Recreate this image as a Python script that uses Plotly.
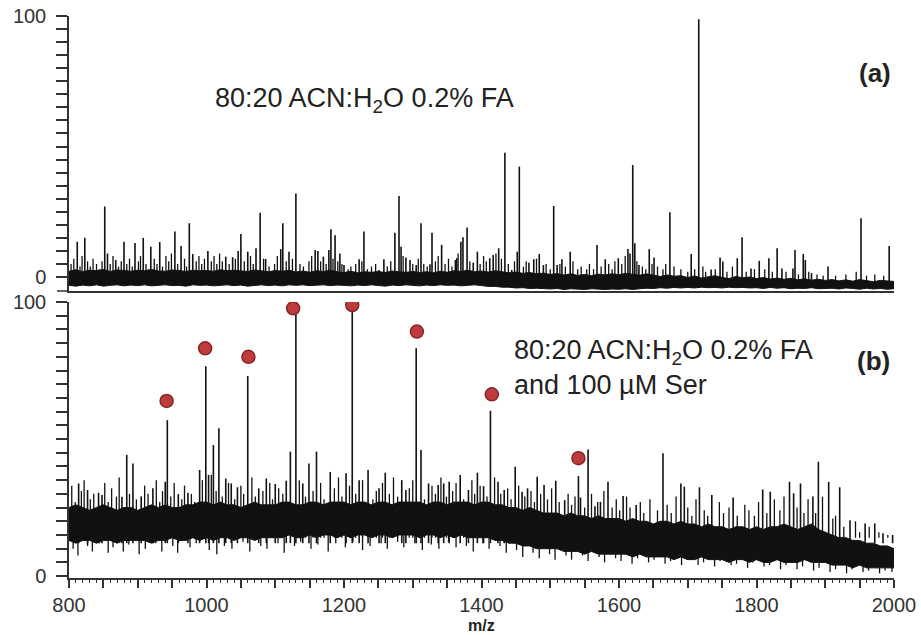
import plotly.graph_objects as go

# ---------------- data ----------------
mz_grid = list(range(800, 2001, 10))

# panel (a): envelope of the dense baseline
a_high = [2.2, 2.8, 2.0, 2.6, 2.4, 2.9, 2.1, 2.7, 2.5, 2.2,
          2.6, 2.4, 2.9, 2.3, 2.2, 2.7, 2.5, 2.1, 2.6, 2.4,
          2.5, 2.2, 2.8, 2.4, 2.6, 2.3, 2.1, 2.7, 2.4, 2.0,
          2.5, 2.2, 2.6, 1.9, 2.3, 1.8, 2.4, 2.1, 2.6, 2.0,
          1.7, 2.2, 1.6, 2.0, 1.8, 2.1, 1.7, 2.3, 2.0, 1.8,
          2.1, 1.7, 2.0, 1.6, 2.2, 1.8, 2.4, 2.1, 2.6, 2.0,
          2.3, 1.9, 2.4, 2.0, 1.6, 1.9, 1.4, 1.7, 1.2, 1.5,
          1.0, 1.3, 0.8, 1.2, 0.6, 1.0, 0.5, 1.1, 0.8, 1.2,
          0.9, 1.4, 1.0, 0.7, 1.2, 0.6, 0.2, 0.8, 0.3, 0.5,
          -0.2, 0.4, -0.4, 0.1, 0.5, -0.2, -0.6, 0.2, -0.3, 0.0,
          -0.6, -0.2, -0.8, -0.4, -0.9, -0.5, -1.1, -0.7, -1.2, -0.9,
          -1.3, -1.0, -1.5, -1.1, -1.6, -1.0, -1.4, -1.8, -1.3, -1.5,
          -1.7]
a_low = [-3.2, -3.5, -3.1, -3.4, -3.0, -3.5, -3.2, -3.0, -3.4, -3.1,
         -3.3, -3.0, -3.4, -3.1, -3.0, -3.3, -3.2, -3.5, -3.0, -3.2,
         -3.1, -3.4, -3.2, -3.0, -3.3, -3.1, -3.5, -3.2, -3.0, -3.3,
         -3.1, -3.4, -3.0, -3.2, -3.0, -3.3, -3.1, -3.0, -3.3, -3.1,
         -3.2, -3.4, -3.1, -3.3, -3.0, -3.2, -3.5, -3.1, -3.3, -3.0,
         -3.2, -3.4, -3.1, -3.3, -3.0, -3.2, -3.1, -3.4, -3.2, -3.0,
         -3.3, -3.6, -3.6, -3.9, -3.9, -4.2, -4.1, -4.4, -4.3, -4.4,
         -4.6, -4.4, -4.8, -4.5, -4.7, -4.8, -4.5, -4.7, -4.8, -4.6,
         -4.7, -4.5, -4.8, -4.5, -4.3, -4.4, -4.1, -4.3, -4.0, -4.2,
         -4.0, -4.2, -3.9, -4.1, -4.0, -4.2, -3.9, -4.1, -4.0, -4.2,
         -4.1, -4.4, -4.0, -4.3, -4.1, -4.5, -4.3, -4.4, -4.1, -4.5,
         -4.4, -4.3, -4.6, -4.2, -4.4, -4.7, -4.3, -4.6, -4.4, -4.7,
         -4.5]

# panel (a): larger peaks
a_peak_mz = [812, 823, 852, 856, 868, 880, 896, 908, 919, 932, 954, 963, 975, 980,
             1002, 1028, 1038, 1046, 1050, 1060, 1072, 1078, 1086, 1108, 1111, 1120,
             1130, 1158, 1162, 1170, 1178, 1181, 1187, 1194, 1200, 1222, 1229, 1251,
             1258, 1274, 1280, 1283, 1290, 1296, 1305, 1312, 1325, 1328, 1342, 1362,
             1364, 1370, 1373, 1379, 1388, 1394, 1412, 1417, 1425, 1434, 1444, 1452,
             1455, 1469, 1476, 1484, 1490, 1505, 1510, 1517, 1529, 1568, 1580, 1599,
             1613, 1616, 1620, 1623, 1629, 1644, 1651, 1674, 1705, 1716, 1734, 1747,
             1751, 1772, 1779, 1792, 1804, 1818, 1830, 1837, 1853, 1856, 1868, 1871,
             1880, 1904, 1952, 1993]
a_peak_int = [13.5, 15, 27, 9, 6.5, 13.5, 13, 15, 11.6, 13.4, 17.4, 11.9, 20.6, 8.8,
              10, 7.8, 7.6, 10, 16.5, 9.7, 11, 24.6, 6.9, 10.7, 20.6, 9.7,
              32, 10.3, 10, 7.8, 10.3, 18.3, 16, 9, 4.6, 6.8, 17.4, 2.7,
              6.8, 17, 31, 11.6, 7.5, 6.5, 4.6, 20.6, 4.9, 17, 12.3, 6.5,
              7.2, 13.5, 15.2, 19, 5.5, 9.7, 7.2, 8.4, 11, 47.6, 2.7, 9.7,
              42.3, 5.5, 6.8, 8.8, 4.6, 27.2, 4.6, 6.8, 9.7, 12.3, 6.8, 7.2,
              10.7, 9, 42.9, 12.9, 4.6, 10.7, 7.5, 24.8, 8.8, 98.8, 2.9, 7.5,
              5.9, 7.2, 15.2, 3.3, 6.2, 7.2, 11, 3.3, 3.3, 10.3, 8.8, 6.5,
              1.5, 4, 22.5, 11.9]

# panel (a): small noise spikes
a_small_mz = [803, 807, 816, 819, 827, 831, 835, 840, 844, 848, 860, 864, 872, 876,
              884, 888, 892, 901, 904, 912, 916, 924, 928, 936, 941, 945, 949, 958,
              968, 971, 985, 989, 993, 997, 1007, 1011, 1015, 1019, 1023, 1033, 1042,
              1055, 1064, 1068, 1083, 1091, 1099, 1103, 1116, 1125, 1136, 1141, 1149,
              1153, 1166, 1174, 1184, 1191, 1197, 1206, 1210, 1217, 1226, 1234, 1240,
              1246, 1263, 1268, 1286, 1300, 1308, 1316, 1321, 1333, 1337, 1347, 1352,
              1357, 1366, 1383, 1398, 1403, 1407, 1421, 1429, 1439, 1448, 1461, 1465,
              1480, 1494, 1500, 1514, 1522, 1533, 1540, 1545, 1553, 1557, 1563, 1574,
              1585, 1590, 1594, 1604, 1609, 1626, 1634, 1639, 1648, 1656, 1664, 1668,
              1680, 1690, 1700, 1710, 1722, 1726, 1740, 1757, 1765, 1785, 1797, 1812,
              1823, 1843, 1861, 1876, 1888, 1897, 1915, 1930, 1945, 1960, 1972, 1985]
a_small_int = [5, 7, 4, 8, 6, 4, 7, 5, 3, 6, 5, 8, 4, 6,
               5, 7, 4, 6, 8, 5, 3, 7, 5, 4, 8, 6, 9, 5,
               7, 4, 6, 8, 5, 7, 6, 8, 5, 9, 6, 5, 7,
               6, 8, 5, 7, 4, 5, 8, 6, 7, 5, 4, 6,
               8, 6, 5, 7, 6, 5, 3, 4, 5, 6, 3, 4,
               5, 4, 6, 8, 5, 7, 5, 4, 6, 8, 5, 7,
               4, 9, 6, 5, 8, 6, 9, 7, 5, 6, 4, 6,
               7, 5, 3, 5, 4, 6, 3, 4, 3, 5, 3, 4,
               5, 3, 6, 5, 8, 6, 4, 3, 5, 4, 3, 5,
               4, 3, 2, 3, 4, 2, 3, 2, 4, 2, 3, 3,
               2, 2, 1, 2, 1, 0.5, 0.5, 1, 2, 0.5, 1, 0.5]

# panel (b): envelope of the noisy baseline
b_high = [25, 26, 25, 24, 25, 26, 25, 24, 25, 25,
          24, 25, 26, 25, 26, 25, 25, 26, 26, 27,
          27, 26, 27, 26, 26, 25, 26, 27, 26, 26,
          26, 27, 27, 26, 26, 27, 27, 26, 27, 27,
          27, 26, 27, 27, 26, 27, 27, 26, 27, 27,
          27, 27, 26, 27, 27, 26, 27, 27, 27, 26,
          27, 27, 26, 26, 25, 25, 24, 25, 24, 23,
          23, 23, 22, 23, 22, 22, 21, 22, 21, 21,
          21, 20, 21, 20, 20, 19, 20, 20, 19, 20,
          19, 19, 18, 19, 18, 18, 17, 18, 18, 17,
          18, 17, 18, 18, 19, 18, 17, 18, 19, 17,
          16, 15, 14, 14, 13, 13, 12, 12, 11, 11,
          10]
b_low = [13, 12, 13, 13, 12, 13, 13, 12, 13, 13,
         13, 13, 12, 13, 13, 14, 13, 13, 14, 13,
         14, 13, 14, 14, 13, 14, 14, 13, 14, 14,
         14, 14, 15, 14, 14, 15, 14, 15, 15, 14,
         15, 14, 15, 15, 14, 15, 15, 14, 15, 15,
         15, 14, 15, 15, 14, 15, 14, 15, 14, 14,
         14, 14, 13, 13, 12, 12, 11, 11, 10, 10,
         10, 10, 9, 9, 9, 8, 9, 8, 8, 8,
         8, 8, 7, 8, 7, 7, 7, 7, 6, 7,
         6, 6, 7, 6, 6, 6, 5, 6, 6, 5,
         6, 5, 5, 6, 5, 5, 5, 6, 5, 5,
         5, 4, 4, 4, 3, 4, 3, 3, 3, 3,
         3]

# panel (b): peaks
b_peak_mz = [814, 827, 843, 848, 877, 884, 893, 905, 922, 940, 943, 959, 973, 990,
             999, 1003, 1010, 1018, 1028, 1036, 1045, 1060, 1076, 1087, 1100, 1116,
             1122, 1130, 1140, 1149, 1160, 1180, 1203, 1212, 1222, 1235, 1251, 1260,
             1284, 1290, 1305, 1312, 1323, 1337, 1345, 1353, 1369, 1381, 1394, 1403,
             1413, 1424, 1433, 1449, 1459, 1467, 1481, 1491, 1508, 1521, 1541, 1544,
             1555, 1565, 1573, 1584, 1606, 1625, 1664, 1690, 1695, 1717, 1735, 1766,
             1809, 1820, 1848, 1854, 1864, 1882, 1890, 1905, 1921, 1936, 1958, 1972,
             1984, 1998]
b_peak_int = [33.8, 31.4, 30.4, 29.6, 28.9, 44.2, 41.1, 29, 32, 34.4, 56.9, 29.9, 30.4, 38.7,
              76.6, 36.9, 47.8, 53.9, 35.6, 33.8, 32.4, 73, 32, 35.6, 33.6, 34.8,
              45.4, 96, 33.8, 41.1, 45.4, 38, 37.5, 96.5, 35, 38.7, 32, 37.7,
              35, 31.4, 83.1, 46, 33.8, 33.2, 33.8, 34.4, 36.9, 31.4, 37.7, 32.8,
              60.3, 34.4, 31.4, 39.9, 30.8, 32, 36.2, 33.2, 34.8, 27.7, 36.5, 28.7,
              46.2, 25.5, 27.1, 34.4, 29.2, 25.9, 44.8, 33.8, 32.6, 32.4, 29.6, 28.7,
              31.6, 30.8, 34.4, 30.2, 33.8, 29, 41.7, 34.4, 32.4, 20.4, 19.2, 19.2,
              15.6, 15]

# panel (b): small upward noise spikes
b_up_mz = [804, 809, 818, 822, 831, 836, 852, 857, 862, 869, 873, 888, 898, 910, 915,
           927, 932, 936, 948, 953, 964, 968, 978, 983, 994, 1007, 1014, 1023, 1032,
           1041, 1050, 1054, 1066, 1071, 1082, 1092, 1096, 1105, 1111, 1135, 1144, 1155,
           1166, 1171, 1186, 1192, 1197, 1208, 1217, 1227, 1242, 1247, 1256, 1266, 1272,
           1278, 1295, 1300, 1317, 1328, 1333, 1341, 1349, 1358, 1363, 1374, 1386, 1390,
           1398, 1408, 1419, 1428, 1438, 1443, 1454, 1463, 1472, 1477, 1486, 1496, 1502,
           1513, 1526, 1531, 1536, 1550, 1560, 1569, 1578, 1590, 1596, 1601, 1611, 1616,
           1631, 1636, 1645, 1656, 1670, 1676, 1683, 1700, 1706, 1712, 1724, 1729, 1746,
           1752, 1760, 1772, 1783, 1789, 1797, 1803, 1815, 1826, 1834, 1840, 1859, 1869,
           1875, 1886, 1896, 1911, 1915, 1927, 1944, 1950, 1964, 1978, 1991]
b_up_int = [33, 27, 31, 35, 28, 30, 34, 27, 32, 29, 36, 30, 28, 33, 30,
            35, 27, 31, 29, 34, 28, 33, 30, 27, 35, 37, 31, 29, 34,
            28, 33, 30, 36, 29, 31, 34, 28, 32, 30, 35, 29, 31,
            34, 28, 32, 36, 29, 33, 30, 35, 28, 31, 34, 30, 36,
            29, 32, 35, 28, 33, 30, 36, 29, 31, 34, 28, 35, 30,
            33, 29, 36, 30, 32, 28, 33, 29, 31, 27, 30, 28, 32,
            27, 30, 26, 29, 25, 30, 27, 31, 25, 28, 24, 29, 25,
            27, 23, 28, 24, 26, 23, 29, 25, 22, 28, 24, 22, 27,
            23, 25, 22, 26, 24, 22, 27, 23, 28, 24, 29, 25, 23,
            28, 23, 29, 21, 22, 18, 20, 16, 18, 16, 15]

# panel (b): small downward noise spikes (lowest point of each)
b_dn_mz = [806, 813, 827, 834, 844, 857, 864, 879, 887, 902,
           911, 926, 935, 951, 958, 976, 985, 1004, 1015, 1026,
           1037, 1053, 1063, 1079, 1088, 1104, 1113, 1128, 1137, 1152,
           1162, 1177, 1188, 1202, 1213, 1227, 1238, 1254, 1263, 1278,
           1287, 1303, 1314, 1327, 1338, 1352, 1363, 1378, 1388, 1402,
           1411, 1427, 1436, 1451, 1460, 1475, 1484, 1499, 1507, 1523,
           1531, 1547, 1555, 1571, 1579, 1595, 1603, 1619, 1627, 1643,
           1651, 1667, 1675, 1691, 1699, 1715, 1723, 1739, 1747, 1763,
           1771, 1787, 1795, 1811, 1819, 1835, 1843, 1859, 1867, 1883,
           1891, 1907, 1915, 1931, 1939, 1955, 1963, 1979, 1987, 1997]
b_dn_int = [10, 7.5, 11, 9, 12, 8.5, 10.5, 9, 11.5, 8,
            10, 12, 9, 11, 8.5, 10.5, 12, 9.5, 8, 11,
            10, 12.5, 9, 11, 10, 12, 8.5, 11, 12.5, 10,
            11.5, 9, 12, 10.5, 12.5, 9.5, 11, 12, 10, 12.5,
            10.5, 12, 9.5, 11.5, 10, 12.5, 10.5, 11, 9, 12,
            10, 11, 8.5, 9.5, 7, 8.5, 6.5, 8, 6, 7.5,
            6, 7.5, 5.5, 7, 5, 6.5, 5.5, 4.5, 6.5, 5,
            6, 4.5, 5.5, 4, 6, 4, 5, 3.5, 5.5, 4,
            4.5, 3, 5, 3.5, 4, 2.5, 4, 2.5, 3.5, 2,
            3, 1.5, 2.5, 1, 2.5, 1.5, 2, 1, 2, 1.5]

# serine-adduct markers (panel b)
ser_mz = [942, 998, 1061, 1126, 1212, 1306, 1415, 1541]
ser_int = [63.9, 83.1, 80.0, 97.7, 98.9, 89.2, 66.3, 43.0]

x_tick_vals = list(range(800, 2001, 50))
x_tick_text = [str(v) if v % 200 == 0 else "" for v in x_tick_vals]
y_tick_vals = list(range(0, 101, 5))
y_tick_text = [str(v) if v in (0, 100) else "" for v in y_tick_vals]

# ---------------- helpers ----------------
def sticks(mzs, ints, base):
    xs, ys = [], []
    for m, h in zip(mzs, ints):
        xs += [m, m, None]
        ys += [base, h, None]
    return xs, ys

def sticks_up_from(mzs, lows, length):
    xs, ys = [], []
    for m, lo in zip(mzs, lows):
        xs += [m, m, None]
        ys += [lo, lo + length, None]
    return xs, ys

INK = "#111111"
AX = "#333333"
FONT = "Liberation Sans, Arial, Helvetica, sans-serif"

fig = go.Figure()

def add_line(xs, ys, xa, ya, width):
    fig.add_trace(go.Scatter(x=xs, y=ys, mode="lines", line=dict(color=INK, width=width),
                             xaxis=xa, yaxis=ya, showlegend=False, hoverinfo="skip",
                             connectgaps=False))

# panel (a) -> x2 / y2
fig.add_trace(go.Scatter(x=mz_grid, y=a_low, mode="lines", line=dict(color=INK, width=1),
                         xaxis="x2", yaxis="y2", showlegend=False, hoverinfo="skip"))
fig.add_trace(go.Scatter(x=mz_grid, y=a_high, mode="lines", line=dict(color=INK, width=1),
                         fill="tonexty", fillcolor=INK,
                         xaxis="x2", yaxis="y2", showlegend=False, hoverinfo="skip"))
add_line(*sticks(a_small_mz, a_small_int, -2), "x2", "y2", 1.3)
add_line(*sticks(a_peak_mz, a_peak_int, -2), "x2", "y2", 1.6)

# panel (b) -> x / y
fig.add_trace(go.Scatter(x=mz_grid, y=b_low, mode="lines", line=dict(color=INK, width=1),
                         xaxis="x", yaxis="y", showlegend=False, hoverinfo="skip"))
fig.add_trace(go.Scatter(x=mz_grid, y=b_high, mode="lines", line=dict(color=INK, width=1),
                         fill="tonexty", fillcolor=INK,
                         xaxis="x", yaxis="y", showlegend=False, hoverinfo="skip"))
add_line(*sticks(b_up_mz, b_up_int, 14), "x", "y", 1.3)
add_line(*sticks_up_from(b_dn_mz, b_dn_int, 7), "x", "y", 1.3)
add_line(*sticks(b_peak_mz, b_peak_int, 12), "x", "y", 1.6)
fig.add_trace(go.Scatter(x=ser_mz, y=ser_int, mode="markers",
                         marker=dict(size=13, color="#bd3b3d", line=dict(color="#8a2628", width=1.5)),
                         xaxis="x", yaxis="y", showlegend=False))

yaxis_common = dict(tickmode="array", tickvals=y_tick_vals, ticktext=y_tick_text,
                    ticks="outside", ticklen=11, tickwidth=1.5, tickcolor=AX,
                    showline=True, linecolor=AX, linewidth=1.5, showgrid=False,
                    zeroline=False, ticklabelstandoff=6,
                    tickfont=dict(family=FONT, size=20, color=AX))

fig.update_layout(
    width=921, height=635,
    margin=dict(l=69, r=27, t=16, b=57, autoexpand=False),
    paper_bgcolor="white", plot_bgcolor="white",
    xaxis=dict(domain=[0, 1], range=[800, 2000], anchor="y",
               tickmode="array", tickvals=x_tick_vals, ticktext=x_tick_text,
               ticks="outside", ticklen=8, tickwidth=1.5, tickcolor=AX,
               minor=dict(tickmode="linear", tick0=800, dtick=10, ticks="outside",
                          ticklen=3, tickwidth=1, tickcolor=AX),
               showline=True, linecolor=AX, linewidth=1.5, showgrid=False, zeroline=False,
               tickfont=dict(family=FONT, size=20, color=AX)),
    yaxis=dict(domain=[0, 0.4911], range=[-0.7, 100], anchor="x", **yaxis_common),
    xaxis2=dict(domain=[0, 1], range=[800, 2000], anchor="y2", matches="x",
                showticklabels=False, ticks="", showline=True, linecolor=AX,
                linewidth=1.5, showgrid=False, zeroline=False),
    yaxis2=dict(domain=[0.5107, 1], range=[-5.36, 100], anchor="x2", **yaxis_common),
    annotations=[
        dict(text="80:20 ACN:H<sub>2</sub>O 0.2% FA", xref="paper", yref="paper",
             x=0.1745, y=0.85, xanchor="left", yanchor="middle", showarrow=False,
             font=dict(family=FONT, size=27, color="#222")),
        dict(text="<b>(a)</b>", xref="paper", yref="paper",
             x=0.9988, y=0.8986, xanchor="right", yanchor="middle", showarrow=False,
             font=dict(family=FONT, size=26, color="#222")),
        dict(text="80:20 ACN:H<sub>2</sub>O 0.2% FA<br>and 100 µM Ser", xref="paper", yref="paper",
             x=0.537, y=0.3737, xanchor="left", yanchor="middle", align="left", showarrow=False,
             font=dict(family=FONT, size=27, color="#222")),
        dict(text="<b>(b)</b>", xref="paper", yref="paper",
             x=0.9976, y=0.386, xanchor="right", yanchor="middle", showarrow=False,
             font=dict(family=FONT, size=26, color="#222")),
        dict(text="<b>m/z</b>", xref="paper", yref="paper",
             x=0.5, y=-0.0845, xanchor="center", yanchor="middle", showarrow=False,
             font=dict(family=FONT, size=16, color="#222")),
    ],
    shapes=[
        dict(type="line", xref="paper", yref="paper", x0=-12 / 825, x1=0,
             y0=0.5107, y1=0.5107, line=dict(color=AX, width=1.5)),
    ],
)

fig.write_html("out.html")
